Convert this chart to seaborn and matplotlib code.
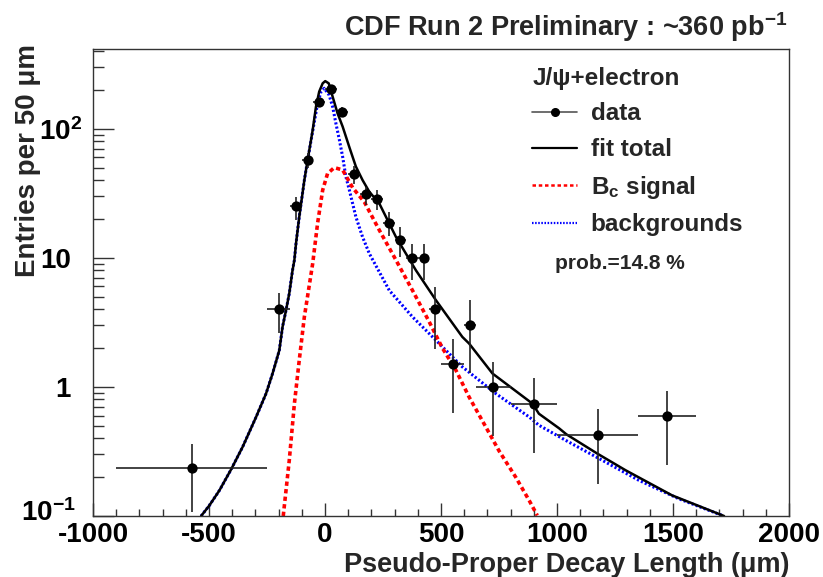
import numpy as np
import pandas as pd
import matplotlib
matplotlib.use("Agg")
import matplotlib.pyplot as plt
import seaborn as sns
from matplotlib.lines import Line2D
from matplotlib.transforms import ScaledTranslation
from matplotlib.ticker import FixedLocator, FixedFormatter, MultipleLocator, LogLocator, NullFormatter

# ---------------- data ----------------
data_x = [-575, -200, -125, -75, -25, 25, 75, 125, 175, 225, 275, 325, 375, 425,
          475, 550, 625, 725, 900, 1175, 1475]
data_y = [0.234, 4.0, 25, 57, 161, 202, 136, 44.3, 31, 28.5, 18.7, 13.7, 10, 10,
          4.0, 1.5, 3.0, 1.0, 0.74, 0.425, 0.6]
data_xerr = [325, 50, 25, 25, 25, 25, 25, 25, 25, 25, 25, 25, 25, 25,
             25, 50, 25, 75, 100, 175, 125]
data_yerr_lo = [0.126, 1.4, 5.4, 7.5, 12.7, 14.2, 11.7, 7.0, 5.5, 5.0, 4.0, 3.6, 3.3, 3.3,
                2.05, 0.87, 1.72, 0.58, 0.43, 0.247, 0.35]
data_yerr_hi = [0.126, 1.3, 4.6, 7.5, 12.7, 14.2, 11.7, 7.0, 4.5, 5.0, 4.0, 3.6, 2.9, 2.9,
                1.9, 0.84, 1.7, 0.56, 0.43, 0.245, 0.33]

fit_x = [-534, -498, -455, -405, -355, -297, -254, -226, -197, -183, -168, -154, -140,
         -132, -125, -111, -89, -75, -53, -39, -25, -10, 1, 16, 33, 54, 76, 105, 133,
         162, 191, 234, 306, 392, 478, 592, 621, 722, 894, 922, 1009, 1040, 1173, 1296,
         1496, 1720]
fit_y = [0.1, 0.121, 0.158, 0.229, 0.343, 0.585, 0.889, 1.27, 1.92, 2.92, 3.93, 5.3, 8.0,
         9.6, 12.9, 20.8, 40, 57, 98, 148, 194, 225, 234, 225, 177, 132, 104, 72, 51,
         40, 32.5, 26.4, 14.5, 8.0, 4.7, 2.44, 2.17, 1.27, 0.743, 0.62, 0.478, 0.43, 0.305,
         0.226, 0.1445, 0.1]

bkg_x = [-534, -498, -455, -405, -355, -297, -254, -226, -197, -183, -168, -154, -140,
         -132, -125, -111, -89, -75, -53, -32, -17, -3, 18, 33, 47, 62, 76, 90, 105, 133,
         162, 191, 277, 377, 478, 592, 736, 880, 922, 1037, 1173, 1353, 1525, 1712]
bkg_y = [0.1, 0.121, 0.158, 0.229, 0.343, 0.585, 0.889, 1.27, 1.92, 2.92, 3.93, 5.3, 8.0,
         9.6, 12.9, 20.8, 40, 57, 96, 157, 194, 206, 182, 148, 110, 82, 60.7, 42.5, 33.5,
         20.8, 14.5, 10.8, 5.6, 3.49, 2.3, 1.43, 0.889, 0.585, 0.505, 0.386, 0.284, 0.189,
         0.136, 0.101]

sig_x = [-180, -154, -132, -111, -89, -53, -32, -10, 11, 40, 76, 119, 170, 234, 306, 377,
         449, 506, 564, 621, 693, 750, 822, 880, 915]
sig_y = [0.1, 0.27, 0.74, 1.61, 3.49, 9.05, 18.5, 33.5, 45, 50, 48, 35, 27, 16.4, 9.6, 5.6,
         3.2, 2.0, 1.35, 0.836, 0.49, 0.32, 0.2, 0.132, 0.101]

ytick_vals = [0.1, 1, 10, 100]
ytick_labels = [r"$10^{-1}$", "1", "10", r"$10^{2}$"]
xtick_vals = [-1000, -500, 0, 500, 1000, 1500, 2000]

legend_title = "J/\u03c8+electron"
legend_labels = ["data", "fit total", r"B$_{c}$ signal", "backgrounds"]

# ---------------- style ----------------
sns.set_style("ticks")
plt.rcParams["font.family"] = ["Liberation Sans", "DejaVu Sans"]
plt.rcParams["font.weight"] = "bold"
plt.rcParams["axes.unicode_minus"] = False
plt.rcParams["mathtext.fontset"] = "custom"
plt.rcParams["mathtext.rm"] = "Liberation Sans:bold"
plt.rcParams["mathtext.bf"] = "Liberation Sans:bold"
plt.rcParams["mathtext.it"] = "Liberation Sans:bold"
plt.rcParams["mathtext.sf"] = "Liberation Sans:bold"
plt.rcParams["mathtext.default"] = "rm"

W, H = 823, 577
fig = plt.figure(figsize=(W / 100, H / 100), dpi=100)
ax = fig.add_axes([93 / W, 1 - 516 / H, 696 / W, 467 / H])

fit_df = pd.DataFrame({"x": fit_x, "y": fit_y})
bkg_df = pd.DataFrame({"x": bkg_x, "y": bkg_y})
sig_df = pd.DataFrame({"x": sig_x, "y": sig_y})

sns.lineplot(data=bkg_df, x="x", y="y", ax=ax, color="#0000ff", lw=2.2,
             linestyle=(0, (0.7, 0.7)), estimator=None, sort=False)
sns.lineplot(data=sig_df, x="x", y="y", ax=ax, color="#ff0000", lw=2.6,
             linestyle=(0, (1.2, 0.9)), estimator=None, sort=False)
sns.lineplot(data=fit_df, x="x", y="y", ax=ax, color="black", lw=1.8,
             estimator=None, sort=False)

ax.errorbar(data_x, data_y, xerr=data_xerr, yerr=[data_yerr_lo, data_yerr_hi],
            fmt="none", ecolor="#222222", elinewidth=1.2, capsize=0, zorder=4)
sns.scatterplot(x=data_x, y=data_y, ax=ax, color="black", s=55, edgecolor="black",
                linewidth=0, zorder=5)

ax.set_yscale("log")
ax.set_xlim(-1000, 2000)
ax.set_ylim(0.1, 415)

ax.xaxis.set_major_locator(FixedLocator(xtick_vals))
ax.xaxis.set_minor_locator(MultipleLocator(100))
ax.yaxis.set_major_locator(FixedLocator(ytick_vals))
ax.yaxis.set_major_formatter(FixedFormatter(ytick_labels))
ax.yaxis.set_minor_locator(LogLocator(base=10, subs=np.arange(2, 10), numticks=30))
ax.yaxis.set_minor_formatter(NullFormatter())

ax.tick_params(axis="both", which="both", direction="in", top=False, right=False,
               colors="#333333", labelcolor="black", labelsize=20, width=1)
ax.tick_params(axis="x", which="major", length=9.5, pad=4)
ax.tick_params(axis="x", which="minor", length=5)
ax.tick_params(axis="y", which="major", length=15, pad=16)
ax.tick_params(axis="y", which="minor", length=8)
for lab in ax.get_xticklabels() + ax.get_yticklabels():
    lab.set_fontweight("bold")

# ROOT-style: superscripted labels stick out to the right of the plain "10"
for tick, val in zip(ax.yaxis.get_major_ticks(), ytick_vals):
    if val == 100:
        off = ScaledTranslation(8 / 72, 0, fig.dpi_scale_trans)
    elif val == 0.1:
        off = ScaledTranslation(4 / 72, 4 / 72, fig.dpi_scale_trans)
    else:
        continue
    tick.label1.set_transform(tick.label1.get_transform() + off)

for sp in ax.spines.values():
    sp.set_color("#333333")
    sp.set_linewidth(1.0)

ax.set_xlabel("Pseudo-Proper Decay Length (\u03bcm)", fontsize=19.5, fontweight="bold",
              loc="right")
ax.xaxis.set_label_coords(1.0, -0.077)
ax.set_ylabel("Entries per 50 \u03bcm", fontsize=20, fontweight="bold", loc="top")
ax.yaxis.set_label_coords(-0.074, 1.01)

handles = [
    Line2D([], [], color="#555555", lw=1.2, marker="o", ms=5.5, mfc="black", mec="black"),
    Line2D([], [], color="black", lw=1.6),
    Line2D([], [], color="#ff0000", lw=1.8, ls=(0, (1.4, 1.1))),
    Line2D([], [], color="#0000ff", lw=1.6, ls=(0, (0.7, 0.7))),
]
leg = ax.legend(handles, legend_labels, title=legend_title, loc="upper left",
                bbox_to_anchor=(0.631, 0.962), frameon=False,
                prop={"size": 17.5, "weight": "bold"},
                title_fontproperties={"size": 17.5, "weight": "bold"},
                alignment="left", handlelength=1.85, handletextpad=0.55,
                labelspacing=0.52, borderpad=0, borderaxespad=0)

ax.text(0.664, 0.54, "prob.=14.8 %", transform=ax.transAxes, fontsize=15,
        fontweight="bold", va="center", ha="left")

fig.text(0.957, 0.9376, r"CDF Run 2 Preliminary : ~360 pb$^{-1}$", ha="right",
         va="baseline", fontsize=19.5, fontweight="bold")

fig.savefig("out.png", dpi=100, facecolor="white")
